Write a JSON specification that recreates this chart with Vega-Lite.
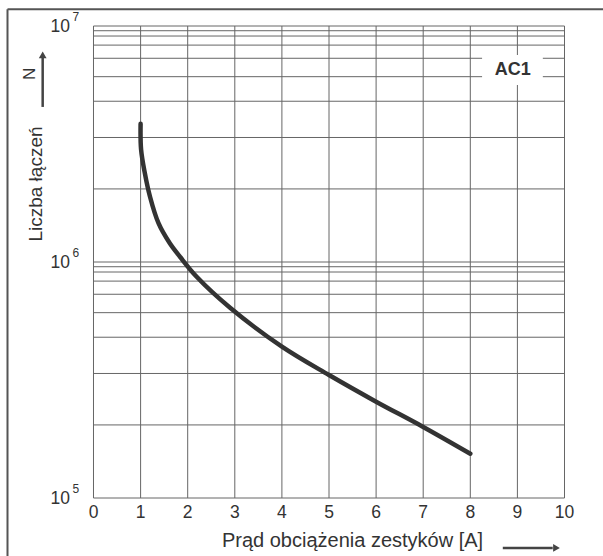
{
  "$schema": "https://vega.github.io/schema/vega-lite/v6.json",
  "width": 595.5,
  "height": 546.7,
  "autosize": {"type": "none"},
  "padding": {"left": 7.5, "top": 9.3, "right": 0, "bottom": 0},
  "background": "white",
  "config": {"view": {"stroke": null}, "font": "Liberation Sans"},
  "datasets": {
    "gridx": [{"x":0},{"x":1},{"x":2},{"x":3},{"x":4},{"x":5},{"x":6},{"x":7},{"x":8},{"x":9},{"x":10}],
    "gridy": [
      {"y":100000},{"y":204000},{"y":337000},{"y":480000},{"y":610000},{"y":730000},{"y":830000},{"y":907000},{"y":955000},
      {"y":1000000},{"y":2040000},{"y":3370000},{"y":4800000},{"y":6100000},{"y":7300000},{"y":8300000},{"y":9070000},{"y":9550000},
      {"y":10000000}
    ],
    "curve": [
      {"a":1.0,"n":3850000},{"a":1.01,"n":3000000},{"a":1.09,"n":2380000},{"a":1.2,"n":1890000},
      {"a":1.38,"n":1460000},{"a":1.62,"n":1200000},{"a":1.84,"n":1050000},{"a":2.19,"n":866000},
      {"a":2.9,"n":640000},{"a":4.0,"n":438000},{"a":5.0,"n":332000},{"a":6.0,"n":256000},
      {"a":7.0,"n":200000},{"a":8.0,"n":154000}
    ],
    "ylabels": [{"v":100000,"e":"5"},{"v":1000000,"e":"6"},{"v":10000000,"e":"7"}]
  },
  "layer": [
    {
      "data": {"name": "gridx"},
      "mark": {"type": "rule", "color": "#666", "strokeWidth": 1},
      "encoding": {
        "x": {"field": "x", "type": "quantitative",
              "scale": {"domain": [-1.8259, 10.8174], "nice": false, "zero": false}, "axis": null},
        "y": {"datum": 100000, "type": "quantitative",
              "scale": {"type": "log", "domain": [56786, 11771000], "nice": false}, "axis": null},
        "y2": {"datum": 10000000}
      }
    },
    {
      "data": {"name": "gridy"},
      "mark": {"type": "rule", "color": "#666", "strokeWidth": 1},
      "encoding": {
        "y": {"field": "y", "type": "quantitative", "axis": null},
        "x": {"datum": 0, "type": "quantitative", "axis": null},
        "x2": {"datum": 10}
      }
    },
    {
      "data": {"values": [{}]},
      "mark": {"type": "rule", "color": "#555", "strokeWidth": 2},
      "encoding": {
        "x": {"datum": -1.8259, "type": "quantitative", "axis": null},
        "x2": {"datum": 10.8174},
        "y": {"datum": 11771000, "type": "quantitative", "axis": null}
      }
    },
    {
      "data": {"values": [{}]},
      "mark": {"type": "rule", "color": "#555", "strokeWidth": 2},
      "encoding": {
        "x": {"datum": -1.8259, "type": "quantitative", "axis": null},
        "y": {"datum": 56786, "type": "quantitative", "axis": null},
        "y2": {"datum": 11771000}
      }
    },
    {
      "data": {"values": [{}]},
      "mark": {"type": "rect", "color": "white"},
      "encoding": {
        "x": {"datum": 8.25, "type": "quantitative", "axis": null},
        "x2": {"datum": 9.54},
        "y": {"datum": 7540000, "type": "quantitative", "axis": null},
        "y2": {"datum": 5620000}
      }
    },
    {
      "data": {"values": [{"t": "AC1"}]},
      "mark": {"type": "text", "fontSize": 18, "fontWeight": "bold", "color": "#333", "align": "center", "baseline": "middle"},
      "encoding": {
        "text": {"field": "t"},
        "x": {"datum": 8.9, "type": "quantitative", "axis": null},
        "y": {"datum": 6510000, "type": "quantitative", "axis": null}
      }
    },
    {
      "data": {"name": "curve"},
      "mark": {"type": "line", "color": "#333", "strokeWidth": 4.5, "strokeCap": "round", "interpolate": "catmull-rom"},
      "encoding": {
        "x": {"field": "a", "type": "quantitative", "axis": null},
        "y": {"field": "n", "type": "quantitative", "axis": null}
      }
    },
    {
      "data": {"name": "gridx"},
      "mark": {"type": "text", "fontSize": 17.5, "color": "#333", "align": "center", "baseline": "middle", "dy": 15},
      "encoding": {
        "text": {"field": "x"},
        "x": {"field": "x", "type": "quantitative", "axis": null},
        "y": {"datum": 100000, "type": "quantitative", "axis": null}
      }
    },
    {
      "data": {"name": "ylabels"},
      "mark": {"type": "text", "fontSize": 17.5, "color": "#333", "align": "right", "baseline": "middle", "dx": -23.5, "dy": 1},
      "encoding": {
        "text": {"value": "10"},
        "x": {"datum": 0, "type": "quantitative", "axis": null},
        "y": {"field": "v", "type": "quantitative", "axis": null}
      }
    },
    {
      "data": {"name": "ylabels"},
      "mark": {"type": "text", "fontSize": 12, "color": "#333", "align": "left", "baseline": "middle", "dx": -21, "dy": -9},
      "encoding": {
        "text": {"field": "e"},
        "x": {"datum": 0, "type": "quantitative", "axis": null},
        "y": {"field": "v", "type": "quantitative", "axis": null}
      }
    },
    {
      "data": {"values": [{"t": "Prąd obciążenia zestyków [A]"}]},
      "mark": {"type": "text", "fontSize": 20, "color": "#333", "align": "center", "baseline": "alphabetic", "dy": 49},
      "encoding": {
        "text": {"field": "t"},
        "x": {"datum": 5.5, "type": "quantitative", "axis": null},
        "y": {"datum": 100000, "type": "quantitative", "axis": null}
      }
    },
    {
      "data": {"values": [{"t": "Liczba łączeń"}]},
      "mark": {"type": "text", "fontSize": 19, "color": "#333", "align": "center", "baseline": "middle", "angle": 270},
      "encoding": {
        "text": {"field": "t"},
        "x": {"datum": -1.227, "type": "quantitative", "axis": null},
        "y": {"datum": 2140000, "type": "quantitative", "axis": null}
      }
    },
    {
      "data": {"values": [{"t": "N"}]},
      "mark": {"type": "text", "fontSize": 17, "color": "#333", "align": "center", "baseline": "middle", "angle": 270},
      "encoding": {
        "text": {"field": "t"},
        "x": {"datum": -1.348, "type": "quantitative", "axis": null},
        "y": {"datum": 6270000, "type": "quantitative", "axis": null}
      }
    },
    {
      "data": {"values": [{}]},
      "mark": {"type": "rule", "color": "#444", "strokeWidth": 2.5},
      "encoding": {
        "x": {"datum": -1.079, "type": "quantitative", "axis": null},
        "y": {"datum": 4540000, "type": "quantitative", "axis": null},
        "y2": {"datum": 7400000}
      }
    },
    {
      "data": {"values": [{}]},
      "mark": {"type": "point", "shape": "triangle-up", "filled": true, "color": "#444", "size": 60, "opacity": 1},
      "encoding": {
        "x": {"datum": -1.079, "type": "quantitative", "axis": null},
        "y": {"datum": 7540000, "type": "quantitative", "axis": null}
      }
    },
    {
      "data": {"values": [{}]},
      "mark": {"type": "rule", "color": "#444", "strokeWidth": 2.5},
      "encoding": {
        "x": {"datum": 8.69, "type": "quantitative", "axis": null},
        "x2": {"datum": 9.75},
        "y": {"datum": 61400, "type": "quantitative", "axis": null}
      }
    },
    {
      "data": {"values": [{}]},
      "mark": {"type": "point", "shape": "triangle-right", "filled": true, "color": "#444", "size": 60, "opacity": 1},
      "encoding": {
        "x": {"datum": 9.83, "type": "quantitative", "axis": null},
        "y": {"datum": 61400, "type": "quantitative", "axis": null}
      }
    }
  ]
}
